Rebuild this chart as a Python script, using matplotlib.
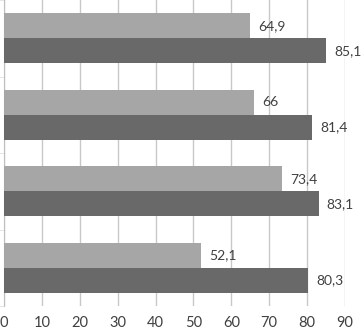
import matplotlib.pyplot as plt
import numpy as np

# data, top group first
light_vals = [64.9, 66, 73.4, 52.1]
dark_vals = [85.1, 81.4, 83.1, 80.3]
light_labels = ['64,9', '66', '73,4', '52,1']
dark_labels = ['85,1', '81,4', '83,1', '80,3']
xticks = [0, 10, 20, 30, 40, 50, 60, 70, 80, 90]

plt.rcParams['font.family'] = ['Lato', 'DejaVu Sans']

fig = plt.figure(figsize=(3.62, 3.30), dpi=100)
ax = fig.add_axes([4/362, 1 - 306/330, 341/362, 306/330])

n = len(light_vals)
pos = np.arange(n)
h = 0.327

ax.barh(pos - h/2, light_vals, height=h, color='#a6a6a6', zorder=3)
ax.barh(pos + h/2, dark_vals, height=h, color='#696969', zorder=3)

for i in range(n):
    ax.text(light_vals[i] + 2.1, pos[i] - h/2, light_labels[i], va='center', ha='left',
            fontsize=10, color='#404040')
    ax.text(dark_vals[i] + 2.1, pos[i] + h/2, dark_labels[i], va='center', ha='left',
            fontsize=10, color='#404040')

ax.set_ylim(n - 0.5, -0.5)
ax.set_xlim(0, 90)
ax.set_xticks(xticks)
ax.set_xticklabels([str(v) for v in xticks], fontsize=10.5, color='#404040')
ax.set_yticks([])
ax.set_yticks(np.arange(-0.5, n, 1), minor=True)
ax.tick_params(axis='y', which='minor', length=4, color='#e0e0e0', left=True)
ax.tick_params(axis='x', length=0, pad=7)

ax.grid(axis='x', color='#c8c8c8', linewidth=1, zorder=0)
for s in ['top', 'right', 'bottom']:
    ax.spines[s].set_visible(False)
ax.spines['left'].set_color('#bfbfbf')

plt.savefig('out.png', dpi=100)
